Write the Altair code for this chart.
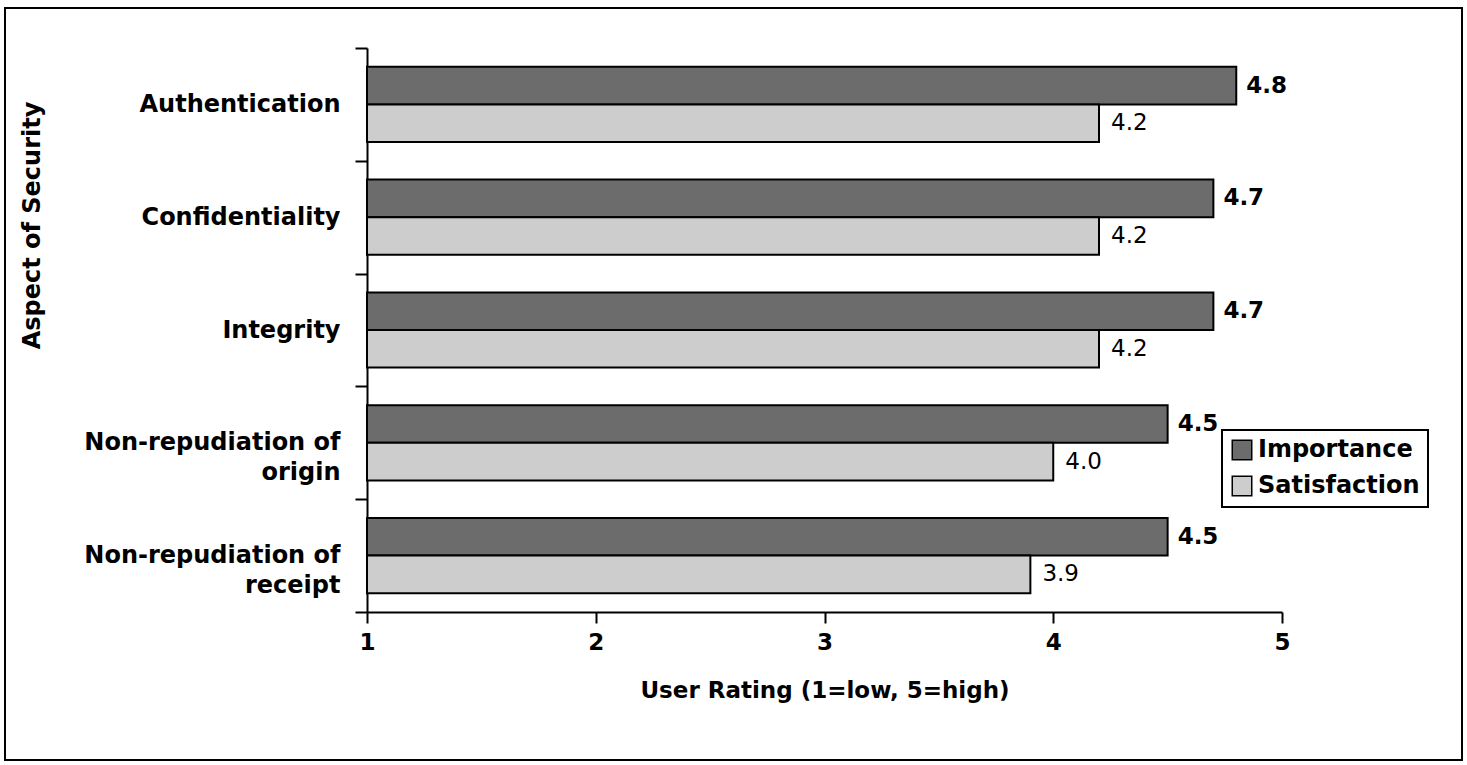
import altair as alt
import pandas as pd

FONT = "DejaVu Sans"

categories = [
    "Authentication",
    "Confidentiality",
    "Integrity",
    "Non-repudiation of|origin",
    "Non-repudiation of|receipt",
]
series = ["Importance", "Satisfaction"]
importance = [4.8, 4.7, 4.7, 4.5, 4.5]
satisfaction = [4.2, 4.2, 4.2, 4.0, 3.9]
x_ticks = [1, 2, 3, 4, 5]
colors = ["#6c6c6c", "#cdcdcd"]

rows = []
for c, i, s in zip(categories, importance, satisfaction):
    rows.append({"Aspect": c, "Measure": "Importance", "Rating": i})
    rows.append({"Aspect": c, "Measure": "Satisfaction", "Rating": s})
df = pd.DataFrame(rows)

x_enc = alt.X(
    "Rating:Q",
    scale=alt.Scale(domain=[1, 5], zero=False, nice=False),
    axis=alt.Axis(
        values=x_ticks, format="d", title="User Rating (1=low, 5=high)",
        labelFont=FONT, labelFontSize=23, labelFontWeight="bold", labelColor="black",
        labelPadding=8, labelFlush=False, tickSize=11, tickWidth=2, tickColor="black",
        domainColor="black", domainWidth=2, grid=False,
        titleFont=FONT, titleFontSize=23, titleFontWeight="bold", titleColor="black",
        titleY=78, titleBaseline="middle",
    ),
)
y_enc = alt.Y(
    "Aspect:N",
    sort=categories,
    scale=alt.Scale(paddingInner=0, paddingOuter=0),
    axis=alt.Axis(
        title="Aspect of Security", tickBand="extent",
        labelExpr="split(datum.label, '|')", labelLineHeight=30, labelLimit=400,
        labelFont=FONT, labelFontSize=24, labelFontWeight="bold", labelColor="black",
        labelPadding=15, tickSize=12, tickWidth=2, tickColor="black",
        domainColor="black", domainWidth=2, grid=False,
        titleFont=FONT, titleFontSize=24, titleFontWeight="bold", titleColor="black",
        titleAngle=270, titleX=-335, titleY=177, titleBaseline="middle", titleAlign="center",
    ),
)
yoff = alt.YOffset("Measure:N", sort=series, scale=alt.Scale(paddingInner=0, paddingOuter=0.5))

base = alt.Chart(df)

bars = base.mark_bar(stroke="black", strokeWidth=2).encode(
    x=x_enc,
    x2=alt.datum(1),
    y=y_enc,
    yOffset=yoff,
    color=alt.Color("Measure:N", sort=series, title=None,
                    scale=alt.Scale(domain=series, range=colors)),
)

imp_text = base.transform_filter(alt.datum.Measure == "Importance").mark_text(
    align="left", baseline="middle", dx=10, font=FONT, fontSize=23, fontWeight="bold", color="black"
).encode(x="Rating:Q", y=alt.Y("Aspect:N", sort=categories), yOffset=yoff,
         text=alt.Text("Rating:Q", format=".1f"))

sat_text = base.transform_filter(alt.datum.Measure == "Satisfaction").mark_text(
    align="left", baseline="middle", dx=12, font=FONT, fontSize=23, color="black"
).encode(x="Rating:Q", y=alt.Y("Aspect:N", sort=categories), yOffset=yoff,
         text=alt.Text("Rating:Q", format=".1f"))

frame = alt.Chart(alt.Data(values=[{"f": 1}])).mark_rect(
    fill="transparent", stroke="black", strokeWidth=2
).encode(x=alt.value(-362), x2=alt.value(1095), y=alt.value(-40), y2=alt.value(712))

chart = alt.layer(bars, imp_text, sat_text, frame).properties(
    width=915, height=564,
    padding={"left": 367, "top": 48, "right": 185, "bottom": 153},
    autosize=alt.AutoSizeParams(type="none"),
    background="white",
).configure_view(strokeWidth=0).configure_legend(
    orient="none", legendX=855, legendY=382,
    strokeColor="black", strokeWidth=2, fillColor="white", padding=8,
    labelFont=FONT, labelFontSize=24, labelFontWeight="bold", labelColor="black",
    symbolType="square", symbolSize=380, symbolStrokeColor="black", symbolStrokeWidth=1.5,
    rowPadding=10, labelLimit=300,
)

chart.save("out.html", embed_options={"renderer": "svg", "actions": False})
